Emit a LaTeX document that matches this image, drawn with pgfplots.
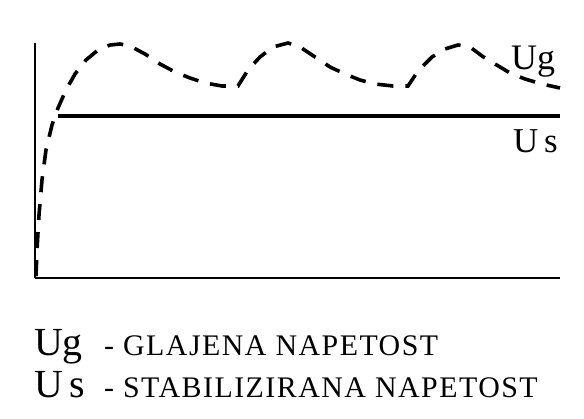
\documentclass[border=0pt]{standalone}
\usepackage{fontspec}
\setmainfont{Liberation Serif}
\newfontfamily\capsfont[LetterSpace=5]{Liberation Serif}
\usepackage{pgfplots}
\pgfplotsset{compat=1.18}
\begin{document}
\begin{tikzpicture}
\begin{axis}[
  scale only axis,
  width=525bp, height=235bp,
  xmin=35, xmax=560, ymin=141, ymax=376,
  axis x line=bottom, axis y line=left,
  axis line style={line width=2.8bp, -},
  xtick=\empty, ytick=\empty,
  clip=false,
]
% bounding box of the whole picture
\path[draw=none] (axis cs:0,0) rectangle (axis cs:584,419);
% Us (stabilised voltage)
\addplot[black, line width=3.2bp] coordinates {(58,303) (560,303)};
% Ug (smoothed voltage), y = 419 - pixel y
\addplot[black, line width=3.6bp, dash pattern=on 16bp off 12bp] coordinates {
(36,143) (37,169) (39,204) (42,239) (46,269) (52,294) (58,311) (66,329)
(75,345) (86,359) (98,369) (110,374) (120,375) (130,373) (145,365)
(160,355) (175,347) (190,341) (205,336) (222,333) (238,333)
(248,349) (260,362) (273,372) (288,376) (300,372) (315,362) (330,352)
(345,345) (360,339) (375,335) (393,333) (408,333)
(418,348) (432,362) (445,370) (458,374) (470,372) (482,363) (495,355)
(510,346) (525,340) (542,335) (560,331)
};
\node[anchor=base west, inner sep=0, font=\fontsize{36}{36}\selectfont] at (axis cs:511,349) {Ug};
\node[anchor=base west, inner sep=0, font=\fontsize{35}{35}\selectfont] at (axis cs:513,266) {U\,s};
\node[anchor=base west, inner sep=0, font=\fontsize{40}{40}\selectfont] at (axis cs:34,64) {Ug};
\node[anchor=base west, inner sep=0, font=\capsfont\fontsize{30}{30}\selectfont] at (axis cs:104,64) {- GLAJENA NAPETOST};
\node[anchor=base west, inner sep=0, font=\fontsize{40}{40}\selectfont] at (axis cs:34,22) {U\,s};
\node[anchor=base west, inner sep=0, font=\capsfont\fontsize{30}{30}\selectfont] at (axis cs:104,22) {- STABILIZIRANA NAPETOST};
\end{axis}
\end{tikzpicture}
\end{document}
